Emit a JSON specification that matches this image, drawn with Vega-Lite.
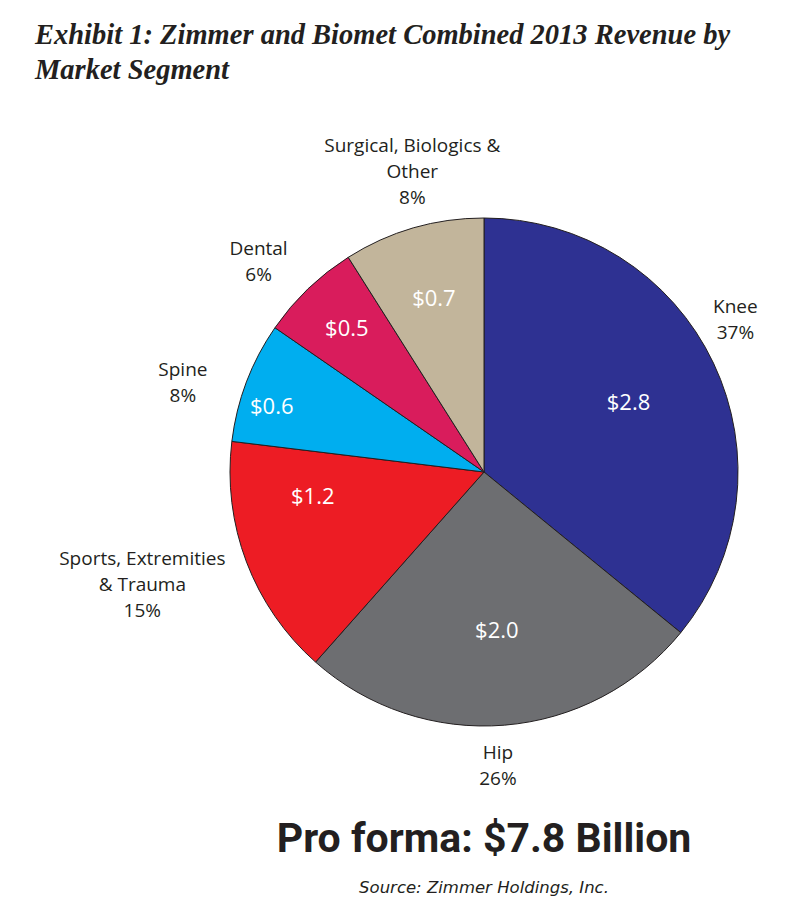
{
  "$schema": "https://vega.github.io/schema/vega-lite/v6.json",
  "autosize": "none",
  "padding": {"left": 168, "top": 100, "right": 0, "bottom": 76},
  "width": 632,
  "height": 744,
  "background": "white",
  "title": {
    "text": ["Exhibit 1: Zimmer and Biomet Combined 2013 Revenue by", "Market Segment"],
    "anchor": "start",
    "frame": "group",
    "orient": "top",
    "font": "Liberation Serif",
    "fontStyle": "italic",
    "fontWeight": "bold",
    "fontSize": 28.5,
    "lineHeight": 35,
    "color": "#231f20",
    "offset": 3,
    "dx": -133
  },
  "datasets": {
    "segments": [
      {"idx": 1, "segment": "Knee", "value": 2.8, "label": "Knee\n37%"},
      {"idx": 2, "segment": "Hip", "value": 2.0, "label": "Hip\n26%"},
      {"idx": 3, "segment": "Sports, Extremities & Trauma", "value": 1.2, "label": "Sports, Extremities\n& Trauma\n15%"},
      {"idx": 4, "segment": "Spine", "value": 0.6, "label": "Spine\n8%"},
      {"idx": 5, "segment": "Dental", "value": 0.5, "label": "Dental\n6%"},
      {"idx": 6, "segment": "Surgical, Biologics & Other", "value": 0.7, "label": "Surgical, Biologics &\nOther\n8%"}
    ],
    "footer": [
      {"headline": "Pro forma: $7.8 Billion", "source": "Source: Zimmer Holdings, Inc."}
    ]
  },
  "layer": [
    {
      "data": {"name": "segments"},
      "mark": {"type": "arc", "outerRadius": 254, "stroke": "#231f20", "strokeWidth": 1},
      "encoding": {
        "theta": {"field": "value", "type": "quantitative", "stack": true},
        "order": {"field": "idx", "type": "quantitative"},
        "color": {
          "field": "segment",
          "type": "nominal",
          "legend": null,
          "scale": {
            "domain": ["Knee", "Hip", "Sports, Extremities & Trauma", "Spine", "Dental", "Surgical, Biologics & Other"],
            "range": ["#2e3192", "#6d6e71", "#ed1c24", "#00aeef", "#d91c5c", "#c2b59b"]
          }
        }
      }
    },
    {
      "data": {"name": "segments"},
      "mark": {"type": "text", "radius": 160, "font": "Open Sans", "fontSize": 22, "fill": "white", "align": "center", "baseline": "middle"},
      "encoding": {
        "theta": {"field": "value", "type": "quantitative", "stack": true},
        "order": {"field": "idx", "type": "quantitative"},
        "text": {"field": "value", "type": "quantitative", "format": "$.1f"},
        "opacity": {"condition": {"test": "datum.idx <= 2", "value": 1}, "value": 0}
      }
    },
    {
      "data": {"name": "segments"},
      "mark": {"type": "text", "radius": 173, "thetaOffset": 0.218, "font": "Open Sans", "fontSize": 22, "fill": "white", "align": "center", "baseline": "middle"},
      "encoding": {
        "theta": {"field": "value", "type": "quantitative", "stack": true},
        "order": {"field": "idx", "type": "quantitative"},
        "text": {"field": "value", "type": "quantitative", "format": "$.1f"},
        "opacity": {"condition": {"test": "datum.idx == 3", "value": 1}, "value": 0}
      }
    },
    {
      "data": {"name": "segments"},
      "mark": {"type": "text", "radius": 222, "thetaOffset": -0.065, "font": "Open Sans", "fontSize": 22, "fill": "white", "align": "center", "baseline": "middle"},
      "encoding": {
        "theta": {"field": "value", "type": "quantitative", "stack": true},
        "order": {"field": "idx", "type": "quantitative"},
        "text": {"field": "value", "type": "quantitative", "format": "$.1f"},
        "opacity": {"condition": {"test": "datum.idx == 4", "value": 1}, "value": 0}
      }
    },
    {
      "data": {"name": "segments"},
      "mark": {"type": "text", "radius": 198, "font": "Open Sans", "fontSize": 22, "fill": "white", "align": "center", "baseline": "middle"},
      "encoding": {
        "theta": {"field": "value", "type": "quantitative", "stack": true},
        "order": {"field": "idx", "type": "quantitative"},
        "text": {"field": "value", "type": "quantitative", "format": "$.1f"},
        "opacity": {"condition": {"test": "datum.idx == 5", "value": 1}, "value": 0}
      }
    },
    {
      "data": {"name": "segments"},
      "mark": {"type": "text", "radius": 180, "font": "Open Sans", "fontSize": 22, "fill": "white", "align": "center", "baseline": "middle"},
      "encoding": {
        "theta": {"field": "value", "type": "quantitative", "stack": true},
        "order": {"field": "idx", "type": "quantitative"},
        "text": {"field": "value", "type": "quantitative", "format": "$.1f"},
        "opacity": {"condition": {"test": "datum.idx == 6", "value": 1}, "value": 0}
      }
    },
    {
      "data": {"name": "segments"},
      "mark": {"type": "text", "radius": 294, "thetaOffset": -0.102, "dy": -13, "font": "Open Sans", "fontSize": 19, "lineHeight": 26, "fill": "#231f20", "align": "center", "baseline": "middle", "lineBreak": "\n"},
      "encoding": {
        "theta": {"field": "value", "type": "quantitative", "stack": true},
        "order": {"field": "idx", "type": "quantitative"},
        "text": {"field": "label", "type": "nominal"},
        "opacity": {"condition": {"test": "datum.idx == 1", "value": 1}, "value": 0}
      }
    },
    {
      "data": {"name": "segments"},
      "mark": {"type": "text", "radius": 294, "thetaOffset": 0.033, "dy": -13, "font": "Open Sans", "fontSize": 19, "lineHeight": 26, "fill": "#231f20", "align": "center", "baseline": "middle", "lineBreak": "\n"},
      "encoding": {
        "theta": {"field": "value", "type": "quantitative", "stack": true},
        "order": {"field": "idx", "type": "quantitative"},
        "text": {"field": "label", "type": "nominal"},
        "opacity": {"condition": {"test": "datum.idx == 2", "value": 1}, "value": 0}
      }
    },
    {
      "data": {"name": "segments"},
      "mark": {"type": "text", "radius": 360, "thetaOffset": 0.042, "dy": -26, "font": "Open Sans", "fontSize": 19, "lineHeight": 26, "fill": "#231f20", "align": "center", "baseline": "middle", "lineBreak": "\n"},
      "encoding": {
        "theta": {"field": "value", "type": "quantitative", "stack": true},
        "order": {"field": "idx", "type": "quantitative"},
        "text": {"field": "label", "type": "nominal"},
        "opacity": {"condition": {"test": "datum.idx == 3", "value": 1}, "value": 0}
      }
    },
    {
      "data": {"name": "segments"},
      "mark": {"type": "text", "radius": 314, "thetaOffset": -0.075, "dy": -13, "font": "Open Sans", "fontSize": 19, "lineHeight": 26, "fill": "#231f20", "align": "center", "baseline": "middle", "lineBreak": "\n"},
      "encoding": {
        "theta": {"field": "value", "type": "quantitative", "stack": true},
        "order": {"field": "idx", "type": "quantitative"},
        "text": {"field": "label", "type": "nominal"},
        "opacity": {"condition": {"test": "datum.idx == 4", "value": 1}, "value": 0}
      }
    },
    {
      "data": {"name": "segments"},
      "mark": {"type": "text", "radius": 308, "thetaOffset": -0.056, "dy": -13, "font": "Open Sans", "fontSize": 19, "lineHeight": 26, "fill": "#231f20", "align": "center", "baseline": "middle", "lineBreak": "\n"},
      "encoding": {
        "theta": {"field": "value", "type": "quantitative", "stack": true},
        "order": {"field": "idx", "type": "quantitative"},
        "text": {"field": "label", "type": "nominal"},
        "opacity": {"condition": {"test": "datum.idx == 5", "value": 1}, "value": 0}
      }
    },
    {
      "data": {"name": "segments"},
      "mark": {"type": "text", "radius": 308, "thetaOffset": 0.047, "dy": -26, "font": "Open Sans", "fontSize": 19, "lineHeight": 26, "fill": "#231f20", "align": "center", "baseline": "middle", "lineBreak": "\n"},
      "encoding": {
        "theta": {"field": "value", "type": "quantitative", "stack": true},
        "order": {"field": "idx", "type": "quantitative"},
        "text": {"field": "label", "type": "nominal"},
        "opacity": {"condition": {"test": "datum.idx == 6", "value": 1}, "value": 0}
      }
    },
    {
      "data": {"name": "footer"},
      "mark": {"type": "text", "font": "Roboto", "fontWeight": "bold", "fontSize": 41, "fill": "#231f20", "align": "center", "baseline": "middle", "dy": 368},
      "encoding": {"text": {"field": "headline", "type": "nominal"}}
    },
    {
      "data": {"name": "footer"},
      "mark": {"type": "text", "font": "DejaVu Sans", "fontStyle": "italic", "fontSize": 16.5, "fill": "#231f20", "align": "center", "baseline": "middle", "dy": 416},
      "encoding": {"text": {"field": "source", "type": "nominal"}}
    }
  ]
}
